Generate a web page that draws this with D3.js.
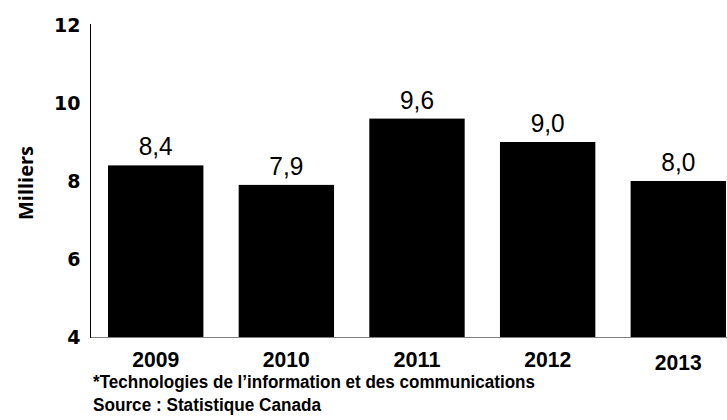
<!DOCTYPE html>
<html>
<head>
<meta charset="utf-8">
<script src="https://cdn.jsdelivr.net/npm/d3@7"></script>
<style>
  body { margin: 0; background: #fff; }
  svg { display: block; }
</style>
</head>
<body>
<script>
// chart data
var years = ["2009", "2010", "2011", "2012", "2013"];
var values = [8.4, 7.9, 9.6, 9.0, 8.0];
var yTicks = [4, 6, 8, 10, 12];
var yTitle = "Milliers";
var notes = ["*Technologies de l\u2019information et des communications", "Source : Statistique Canada"];

var width = 727;
var height = 420;

var margin = ({top: 25, right: 0, bottom: 83, left: 90});

var x = d3.scaleBand()
    .domain(years)
    .range([margin.left, 744])
    .paddingInner(0.27)
    .paddingOuter(0.138);

var y = d3.scaleLinear()
    .domain([4, 12])
    .range([height - margin.bottom, margin.top]);

var condensed = '"Liberation Sans Narrow", "Arial Narrow", "Liberation Sans", sans-serif';

const svg = d3.select("body").append("svg")
    .attr("width", width)
    .attr("height", height);

//bars
svg.append("g")
    .attr("fill", "#000")
  .selectAll("rect").data(values).enter().append("rect")
    .attr("x", (d, i) => x(years[i]))
    .attr("y", d => y(d))
    .attr("height", d => y(4) - y(d))
    .attr("width", x.bandwidth());

//baseline (grey)
svg.append("line")
    .attr("x1", margin.left).attr("x2", width)
    .attr("y1", y(4) + 0.5).attr("y2", y(4) + 0.5)
    .attr("stroke", "#808080")
    .attr("stroke-width", 1);

//y axis
var yAxis = g => g
    .attr("transform", `translate(${margin.left + 0.5},0)`)
    .call(d3.axisLeft(y).tickValues(yTicks).tickSize(0).tickPadding(10))
    .call(g => g.select(".domain").attr("stroke", "#000").attr("d", `M0,${y(12) - 1}V${y(4) + 1}`))
    .call(g => g.selectAll("text")
        .attr("fill", "#000")
        .attr("font-family", '"DejaVu Sans", sans-serif')
        .attr("font-weight", "bold")
        .attr("font-size", 19)
        .attr("dy", "0.36em"));

svg.append("g").call(yAxis);

//x labels
svg.append("g")
  .selectAll("text").data(years).enter().append("text")
    .attr("x", d => x(d) + x.bandwidth() / 2)
    .attr("y", (d, i) => i == 4 ? 370 : 367)
    .attr("text-anchor", "middle")
    .attr("font-family", condensed)
    .attr("font-weight", "bold")
    .attr("font-size", 22)
    .attr("textLength", 47)
    .attr("lengthAdjust", "spacingAndGlyphs")
    .text(d => d);

//value labels
svg.append("g")
  .selectAll("text").data(values).enter().append("text")
    .attr("x", (d, i) => x(years[i]) + x.bandwidth() / 2)
    .attr("y", d => y(d) - 10)
    .attr("text-anchor", "middle")
    .attr("font-family", condensed)
    .attr("font-size", 26)
    .attr("textLength", 34)
    .attr("lengthAdjust", "spacingAndGlyphs")
    .text(d => d.toFixed(1).replace(".", ","));

//y title
svg.append("text")
    .attr("transform", "translate(33,183) rotate(-90)")
    .attr("text-anchor", "middle")
    .attr("font-family", '"Open Sans", sans-serif')
    .attr("font-weight", "bold")
    .attr("font-size", 20)
    .text(yTitle);

//footnotes
var noteLen = [442, 228];
svg.append("g")
  .selectAll("text").data(notes).enter().append("text")
    .attr("x", (d, i) => i == 0 ? 93 : 93)
    .attr("y", (d, i) => i == 0 ? 388 : 411)
    .attr("font-family", condensed)
    .attr("font-weight", "bold")
    .attr("font-size", 18)
    .attr("textLength", (d, i) => noteLen[i])
    .attr("lengthAdjust", "spacingAndGlyphs")
    .text(d => d);
</script>
</body>
</html>
